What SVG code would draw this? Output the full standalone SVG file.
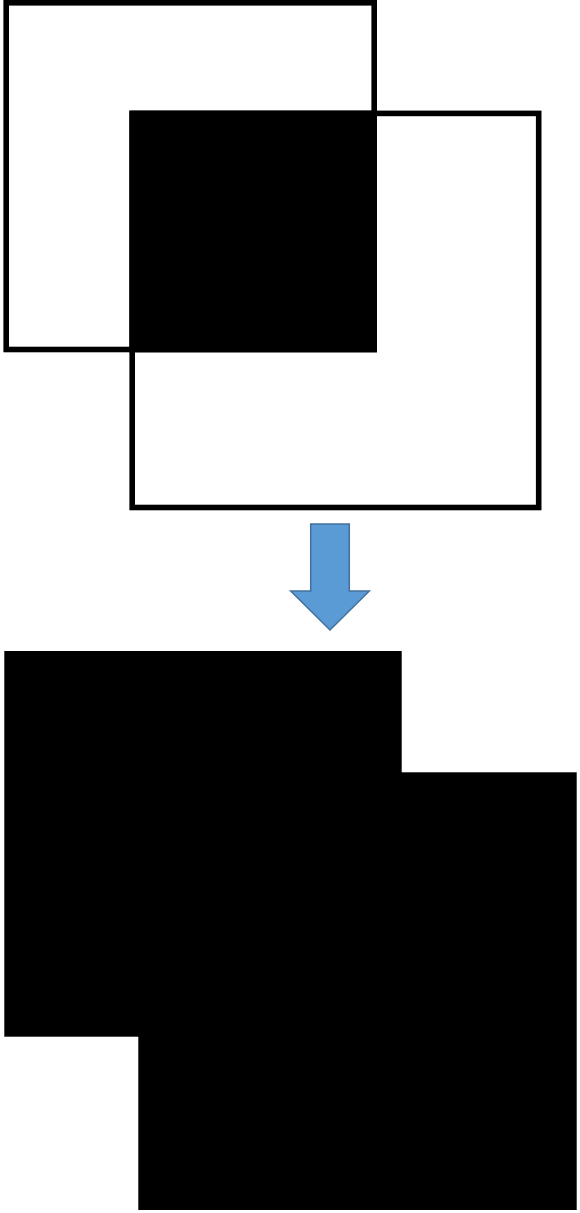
<svg xmlns="http://www.w3.org/2000/svg" width="580" height="1213" viewBox="0 0 580 1213">
  <style>
    .outline { fill: none; stroke: #000000; stroke-width: 5.6; }
    .solid { fill: #000000; stroke: none; }
    .blockarrow { fill: #5B9BD5; stroke: #41719C; stroke-width: 1.5; stroke-linejoin: miter; }
  </style>
  <rect x="0" y="0" width="580" height="1213" fill="#FFFFFF"/>
  <g id="before">
    <g id="square-a">
      <rect class="outline" x="6.2" y="2.8" width="368" height="346.7"/>
    </g>
    <g id="square-b">
      <rect class="outline" x="132.2" y="113.4" width="406.5" height="394.1"/>
    </g>
    <g id="intersection">
      <rect class="solid" x="129.4" y="110.6" width="247.4" height="241.7"/>
    </g>
  </g>
  <g id="connectors">
    <path id="down-arrow" class="blockarrow" d="M310.7,524 L349.3,524 L349.3,591 L369.3,591 L330,630 L290.7,591 L310.7,591 Z"/>
  </g>
  <g id="after">
    <g id="union-a">
      <rect class="solid" x="4.3" y="651" width="397.4" height="385.7"/>
    </g>
    <g id="union-b">
      <rect class="solid" x="138.3" y="772.3" width="438.4" height="437.7"/>
    </g>
  </g>
</svg>
